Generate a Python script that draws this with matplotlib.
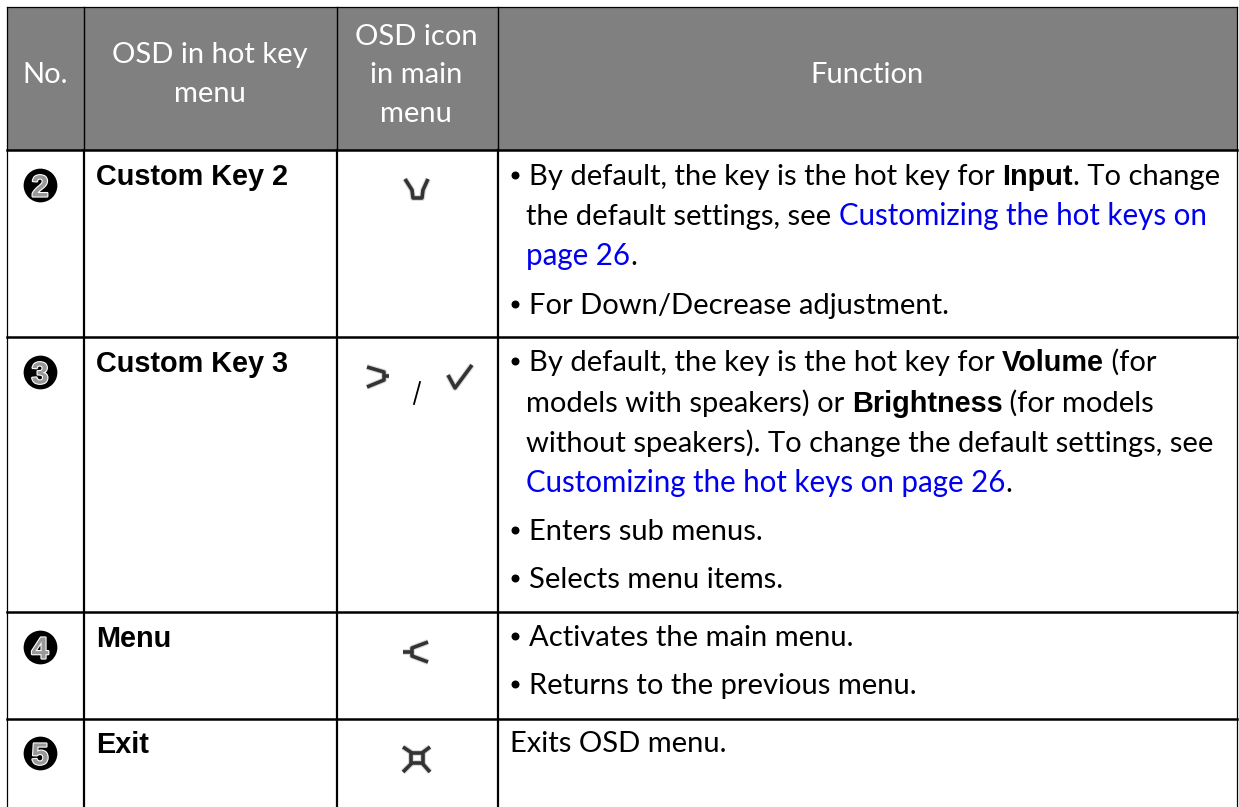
import matplotlib
matplotlib.use("Agg")
from matplotlib import pyplot as plt
from matplotlib import patheffects as pe

W, H = 1239, 807
BODY_FONT = "Lato"
KEY_FONT = "Liberation Sans"
BODY_SIZE = 21
LINK_SIZE = 21.25
BOLD_SIZE = 20.8
HEADER_BG = "#808080"
LINK = "#0000ee"

col_edges = [7, 84, 337, 498, 1237]
row_edges = [7, 150, 337, 612, 719, 807]

# text, centre x, baseline
header_lines = [
    ("No.", 45, 83),
    ("OSD in hot key", 210, 63),
    ("menu", 210, 102),
    ("OSD icon", 416, 45),
    ("in main", 416, 83),
    ("menu", 416, 122),
    ("Function", 867, 83),
]

key_numbers = ["2", "3", "4", "5"]
key_names = ["Custom Key 2", "Custom Key 3", "Menu", "Exit"]
key_baselines = [185, 372, 647, 753]

# each line: x, baseline, has bullet, runs of (text, style)
function_lines = [
    (529, 185, True, [("By default, the key is the hot key for ", "n"), ("Input", "b"), (". To change", "n")]),
    (526, 225, False, [("the default settings, see ", "n"), ("Customizing the hot keys on", "l")]),
    (526, 265, False, [("page 26", "l"), (".", "n")]),
    (529, 314, True, [("For Down/Decrease adjustment.", "n")]),
    (529, 371, True, [("By default, the key is the hot key for ", "n"), ("Volume", "b"), (" (for", "n")]),
    (526, 412, False, [("models with speakers) or ", "n"), ("Brightness", "b"), (" (for models", "n")]),
    (526, 452, False, [("without speakers). To change the default settings, see", "n")]),
    (526, 492, False, [("Customizing the hot keys on page 26", "l"), (".", "n")]),
    (529, 540, True, [("Enters sub menus.", "n")]),
    (529, 588, True, [("Selects menu items.", "n")]),
    (529, 646, True, [("Activates the main menu.", "n")]),
    (529, 694, True, [("Returns to the previous menu.", "n")]),
    (510, 752, False, [("Exits OSD menu.", "n")]),
]

# icon strokes, in picture pixels
icon_down = [[(405, 179), (412, 190), (413, 198), (422, 198), (423, 190), (428, 179)]]
icon_right = [[(367, 367), (384, 372), (384, 380), (367, 387)], [(384, 376), (389, 376)]]
icon_check = [[(448, 375), (455, 388), (472, 365)]]
icon_left = [[(428, 642), (412, 648), (412, 656), (428, 662)], [(403, 652), (412, 652)]]
icon_exit = [[(403, 747), (412, 753)], [(430, 747), (422, 753)], [(403, 772), (412, 763)],
             [(430, 772), (422, 763)], [(411, 753), (423, 753), (423, 763), (411, 763), (411, 753)]]
icon_slash = [[(420, 382), (414, 404)]]

fig = plt.figure(figsize=(W / 100, H / 100), dpi=100)
ax = fig.add_axes([0, 0, 1, 1])
ax.set_xlim(0, W)
ax.set_ylim(H, 0)
ax.axis("off")

ax.fill_between([col_edges[0], col_edges[-1]], row_edges[0], row_edges[1], color=HEADER_BG, lw=0)

for x in col_edges[1:-1]:
    ax.plot([x, x], [row_edges[0], row_edges[1]], color="black", lw=1.0)
    ax.plot([x, x], [row_edges[1], H], color="black", lw=1.6)
for x in [col_edges[0], col_edges[-1]]:
    ax.plot([x, x], [row_edges[0], H], color="black", lw=0.9)
ax.plot([col_edges[0], col_edges[-1]], [row_edges[0], row_edges[0]], color="black", lw=0.9)
for y in row_edges[1:-1]:
    ax.plot([col_edges[0], col_edges[-1]], [y, y], color="black", lw=1.8)

for label, cx, base in header_lines:
    ax.text(cx, base, label, color="white", ha="center", va="baseline",
            family=BODY_FONT, fontsize=BODY_SIZE)

for num, name, base in zip(key_numbers, key_names, key_baselines):
    ax.scatter([40], [base], s=590, color="black", lw=0, zorder=3)
    ax.text(40, base, num, color="#999999", ha="center", va="center_baseline",
            family=KEY_FONT, weight="bold", fontsize=22, zorder=4,
            path_effects=[pe.withStroke(linewidth=1.6, foreground="white")])
    ax.text(96, base, name, color="black", ha="left", va="baseline",
            family=KEY_FONT, weight="bold", fontsize=BOLD_SIZE)

fig.canvas.draw()
renderer = fig.canvas.get_renderer()


def run_style(style):
    if style == "b":
        return dict(family=KEY_FONT, weight="bold", color="black", fontsize=BOLD_SIZE)
    if style == "l":
        return dict(family=BODY_FONT, color=LINK, fontsize=LINK_SIZE)
    return dict(family=BODY_FONT, color="black", fontsize=BODY_SIZE)


def advance(text, style):
    # measure with a bar on the end so that trailing spaces count
    t = ax.text(0, 0, text + "|", **run_style(style))
    b = ax.text(0, 0, "|", **run_style(style))
    w = t.get_window_extent(renderer).width - b.get_window_extent(renderer).width
    t.remove()
    b.remove()
    return w


for x, base, bullet, runs in function_lines:
    if bullet:
        ax.scatter([515], [base - 10.5], s=33, color="black", lw=0)
    for text, style in runs:
        ax.text(x, base, text, ha="left", va="baseline", **run_style(style))
        x += advance(text, style)

for icon in [icon_down, icon_right, icon_check, icon_left, icon_exit]:
    for stroke in icon:
        xs = [p[0] for p in stroke]
        ys = [p[1] for p in stroke]
        ax.plot(xs, ys, color="#d8d8d8", lw=4.2, solid_capstyle="butt")
for icon in [icon_down, icon_right, icon_check, icon_left, icon_exit]:
    for stroke in icon:
        xs = [p[0] for p in stroke]
        ys = [p[1] for p in stroke]
        ax.plot(xs, ys, color="#333333", lw=2.6, solid_capstyle="butt")
for stroke in icon_slash:
    ax.plot([p[0] for p in stroke], [p[1] for p in stroke], color="black", lw=1.3)

fig.savefig("out.png", dpi=100)
